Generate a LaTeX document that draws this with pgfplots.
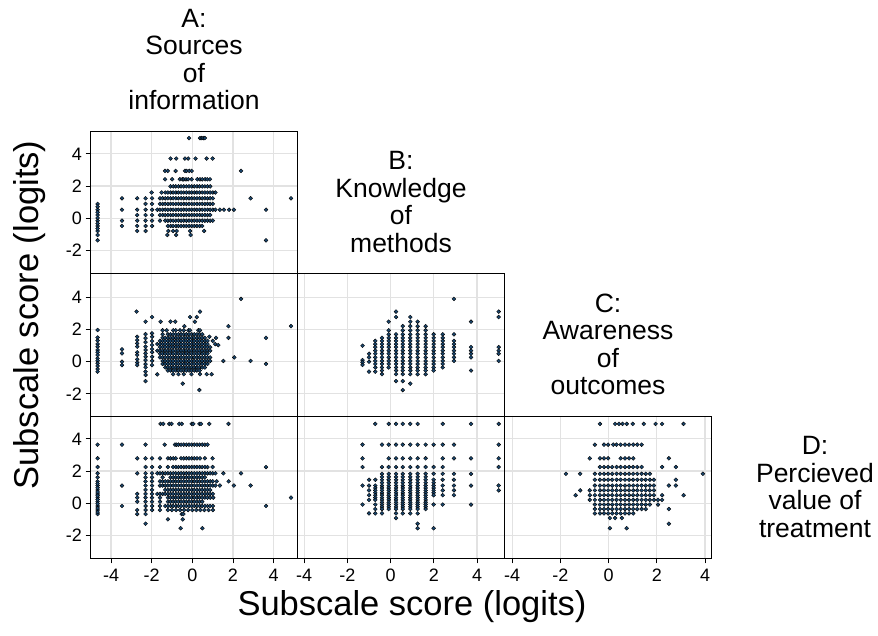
\documentclass[border=0pt]{standalone}
\usepackage{pgfplots}
\pgfplotsset{compat=1.18}
\usepackage{fontspec}
\setmainfont{Liberation Sans}
\definecolor{navy}{RGB}{26,71,111}
\definecolor{gridc}{RGB}{226,226,226}
\pgfplotsset{
  panel/.style={
    scale only axis, width=207pt, height=142.5pt, anchor=north west,
    axis line style={black, line width=0.9pt},
    grid=major, major grid style={draw=gridc, line width=1.2pt},
    xtick={-4,-2,0,2,4}, ytick={-2,0,2,4},
    xticklabels={}, yticklabels={},
    tick align=outside, major tick length=5pt,
    xtick pos=bottom, ytick pos=left,
    xtick style={draw=none}, ytick style={draw=none},
    tick label style={font=\fontsize{18}{18}\selectfont, text=black},
  },
  dots/.style={only marks, mark=*, mark size=1.95pt, mark options={draw=none, fill=navy}},
  ylab/.style={yticklabels={-2,0,2,4}, ytick style={draw=black, line width=0.8pt}},
  xlab/.style={xticklabels={-4,-2,0,2,4}, xtick style={draw=black, line width=0.8pt}, xticklabel style={yshift=-2pt}},
}
\begin{document}
\begin{tikzpicture}[x=1pt,y=1pt]
\useasboundingbox (0pt,0pt) rectangle (878pt,636pt);

% ---------------- Row 1: B vs A ----------------
\begin{axis}[panel, ylab, at={(90.5pt,505pt)}, xmin=-5.01, xmax=5.18, ymin=-3.43, ymax=5.42]
\addplot[dots] coordinates {
(-0.16,4.98)(0.38,4.98)(0.46,4.98)(0.54,4.98)(0.62,4.98)
(-1.07,3.71)(-0.79,3.71)(-0.36,3.71)(-0.20,3.71)(0.16,3.71)(0.71,3.71)(1.00,3.71)
(-1.34,2.94)(-1.21,2.94)(-0.82,2.94)(-0.36,2.94)(-0.28,2.94)(-0.15,2.94)(-0.03,2.94)(2.40,2.94)
(-1.34,2.42)(-0.99,2.42)(-0.61,2.42)(-0.49,2.42)(-0.42,2.42)(-0.31,2.42)(-0.20,2.42)(-0.03,2.42)(0.25,2.42)(0.38,2.42)(0.49,2.42)(0.63,2.42)(0.74,2.42)(0.87,2.42)
(-1.07,1.98)(-0.94,1.98)(-0.81,1.98)(-0.68,1.98)(-0.55,1.98)(-0.42,1.98)(-0.29,1.98)(-0.16,1.98)(-0.03,1.98)(0.10,1.98)(0.23,1.98)(0.36,1.98)(0.49,1.98)(0.62,1.98)(0.75,1.98)(0.88,1.98)
(-2.00,1.60)(-1.51,1.60)(-1.33,1.60)(-1.20,1.60)(-1.07,1.60)(-0.94,1.60)(-0.81,1.60)(-0.68,1.60)(-0.55,1.60)(-0.42,1.60)(-0.29,1.60)(-0.16,1.60)(-0.03,1.60)(0.10,1.60)(0.23,1.60)(0.36,1.60)(0.49,1.60)(0.62,1.60)(0.75,1.60)(0.88,1.60)(1.01,1.60)(1.14,1.60)
(-3.46,1.24)(-2.71,1.24)(-2.30,1.24)(-1.98,1.24)(-1.59,1.24)(-1.46,1.24)(-1.33,1.24)(-1.20,1.24)(-1.07,1.24)(-0.94,1.24)(-0.81,1.24)(-0.68,1.24)(-0.55,1.24)(-0.42,1.24)(-0.29,1.24)(-0.16,1.24)(-0.03,1.24)(0.10,1.24)(0.23,1.24)(0.36,1.24)(0.49,1.24)(0.62,1.24)(0.75,1.24)(0.88,1.24)(1.01,1.24)(2.87,1.24)(4.86,1.24)
(-4.66,0.89)(-2.30,0.89)(-1.98,0.89)(-1.59,0.89)(-1.46,0.89)(-1.33,0.89)(-1.20,0.89)(-1.07,0.89)(-0.94,0.89)(-0.81,0.89)(-0.68,0.89)(-0.55,0.89)(-0.42,0.89)(-0.29,0.89)(-0.16,0.89)(-0.03,0.89)(0.10,0.89)(0.23,0.89)(0.36,0.89)(0.49,0.89)(0.62,0.89)(0.75,0.89)(0.88,0.89)(1.01,0.89)
(-4.66,0.53)(-3.46,0.53)(-2.71,0.53)(-2.30,0.53)(-1.98,0.53)(-1.72,0.53)(-1.59,0.53)(-1.46,0.53)(-1.33,0.53)(-1.20,0.53)(-1.07,0.53)(-0.94,0.53)(-0.81,0.53)(-0.68,0.53)(-0.55,0.53)(-0.42,0.53)(-0.29,0.53)(-0.16,0.53)(-0.03,0.53)(0.10,0.53)(0.23,0.53)(0.36,0.53)(0.49,0.53)(0.62,0.53)(0.75,0.53)(0.88,0.53)(1.01,0.53)(1.14,0.53)(1.36,0.53)(1.56,0.53)(1.81,0.53)(2.05,0.53)(3.63,0.53)
(-4.66,0.20)(-2.71,0.20)(-2.30,0.20)(-1.98,0.20)(-1.59,0.20)(-1.46,0.20)(-1.33,0.20)(-1.20,0.20)(-1.07,0.20)(-0.94,0.20)(-0.81,0.20)(-0.68,0.20)(-0.55,0.20)(-0.42,0.20)(-0.29,0.20)(-0.16,0.20)(-0.03,0.20)(0.10,0.20)(0.23,0.20)(0.36,0.20)(0.49,0.20)(0.62,0.20)(0.75,0.20)(0.88,0.20)
(-4.66,-0.15)(-3.46,-0.15)(-2.71,-0.15)(-2.30,-0.15)(-1.98,-0.15)(-1.59,-0.15)(-1.33,-0.15)(-1.20,-0.15)(-1.07,-0.15)(-0.94,-0.15)(-0.81,-0.15)(-0.68,-0.15)(-0.55,-0.15)(-0.42,-0.15)(-0.29,-0.15)(-0.16,-0.15)(-0.03,-0.15)(0.10,-0.15)(0.23,-0.15)(0.36,-0.15)(0.49,-0.15)(0.62,-0.15)(0.75,-0.15)(0.88,-0.15)(1.01,-0.15)
(-4.66,-0.48)(-3.46,-0.48)(-2.71,-0.48)(-2.30,-0.48)(-1.98,-0.48)(-1.20,-0.48)(-1.07,-0.48)(-0.94,-0.48)(-0.81,-0.48)(-0.68,-0.48)(-0.55,-0.48)(-0.42,-0.48)(-0.29,-0.48)(-0.16,-0.48)(-0.03,-0.48)(0.10,-0.48)(0.23,-0.48)(0.36,-0.48)(0.49,-0.48)
(-4.66,-0.79)(-2.71,-0.79)(-2.30,-0.79)(-1.18,-0.79)(-0.94,-0.79)(-0.77,-0.79)(-0.11,-0.79)(0.58,-0.79)
(-4.66,-1.04)(-1.23,-1.04)(-0.79,-1.04)(-0.08,-1.04)
(-4.66,-1.37)(3.63,-1.37)
(-4.66,0.72)(-4.66,0.37)(-4.66,0.02)(-4.66,-0.32)(-4.66,-0.64)
};
\end{axis}

% ---------------- Row 2: C vs A ----------------
\begin{axis}[panel, ylab, at={(90.5pt,362.5pt)}, xmin=-5.01, xmax=5.18, ymin=-3.39, ymax=5.51]
\addplot[dots] coordinates {
(-4.66,1.98)(-4.66,1.51)(-4.66,1.32)(-4.66,1.11)(-4.66,0.94)(-4.66,0.73)(-4.66,0.59)(-4.66,0.42)(-4.66,0.21)(-4.66,0.06)(-4.66,-0.10)(-4.66,-0.27)(-4.66,-0.46)(-4.66,-0.62)
(-3.46,0.77)(-3.46,0.52)(-3.46,0.00)(-3.46,-0.21)
(-2.74,3.13)(-2.71,1.56)(-2.71,1.35)(-2.71,1.14)(-2.71,0.94)(-2.71,0.59)(-2.71,0.42)(-2.71,0.15)(-2.71,-0.06)(-2.71,-0.21)
(-2.30,2.50)(-2.30,1.72)(-2.30,1.47)(-2.30,1.22)(-2.30,0.94)(-2.30,0.73)(-2.30,0.52)(-2.30,0.31)(-2.30,0.10)(-2.30,-0.15)(-2.30,-0.35)(-2.30,-0.62)(-2.30,-0.83)(-2.30,-1.21)
(-1.98,2.79)(-1.98,1.77)(-1.98,1.56)(-1.98,1.29)(-1.98,1.04)(-1.98,0.79)(-1.98,0.59)(-1.98,0.31)(-1.98,0.06)(-1.98,-0.21)
(-1.72,1.10)(-1.72,0.69)(-1.72,-0.79)(-1.56,2.50)
(-1.07,2.50)(-0.84,2.50)(0.13,2.50)(-0.11,2.79)(0.22,2.79)(0.38,3.13)(2.40,3.92)(-0.39,2.22)(1.78,2.22)(4.86,2.22)
(-1.46,1.96)(-1.26,1.96)(-0.94,1.96)(-0.81,1.96)(-0.60,1.96)(-0.42,1.96)(-0.19,1.96)(-0.11,1.96)(0.30,1.96)(0.38,1.96)
(-1.46,1.71)(-1.20,1.71)(-1.07,1.71)(-0.94,1.71)(-0.81,1.71)(-0.68,1.71)(-0.55,1.71)(-0.42,1.71)(-0.29,1.71)(-0.16,1.71)(-0.03,1.71)(0.10,1.71)(0.23,1.71)(0.36,1.71)(0.49,1.71)(0.84,1.56)
(-1.46,1.49)(-1.33,1.49)(-1.20,1.49)(-1.07,1.49)(-0.94,1.49)(-0.81,1.49)(-0.68,1.49)(-0.55,1.49)(-0.42,1.49)(-0.29,1.49)(-0.16,1.49)(-0.03,1.49)(0.10,1.49)(0.23,1.49)(0.36,1.49)(0.49,1.49)(0.62,1.49)(1.17,1.49)(1.78,1.49)(3.63,1.49)
(-1.59,1.30)(-1.46,1.30)(-1.33,1.30)(-1.20,1.30)(-1.07,1.30)(-0.94,1.30)(-0.81,1.30)(-0.68,1.30)(-0.55,1.30)(-0.42,1.30)(-0.29,1.30)(-0.16,1.30)(-0.03,1.30)(0.10,1.30)(0.23,1.30)(0.36,1.30)(0.49,1.30)(0.62,1.30)(0.75,1.30)(1.01,1.30)
(-1.59,1.10)(-1.46,1.10)(-1.33,1.10)(-1.20,1.10)(-1.07,1.10)(-0.94,1.10)(-0.81,1.10)(-0.68,1.10)(-0.55,1.10)(-0.42,1.10)(-0.29,1.10)(-0.16,1.10)(-0.03,1.10)(0.10,1.10)(0.23,1.10)(0.36,1.10)(0.49,1.10)(0.62,1.10)(0.75,1.10)(1.13,1.10)(1.28,1.04)
(-1.59,0.91)(-1.46,0.91)(-1.33,0.91)(-1.20,0.91)(-1.07,0.91)(-0.94,0.91)(-0.81,0.91)(-0.68,0.91)(-0.55,0.91)(-0.42,0.91)(-0.29,0.91)(-0.16,0.91)(-0.03,0.91)(0.10,0.91)(0.23,0.91)(0.36,0.91)(0.49,0.91)(0.62,0.91)(0.75,0.91)(0.88,0.91)
(-1.59,0.69)(-1.46,0.69)(-1.33,0.69)(-1.20,0.69)(-1.07,0.69)(-0.94,0.69)(-0.81,0.69)(-0.68,0.69)(-0.55,0.69)(-0.42,0.69)(-0.29,0.69)(-0.16,0.69)(-0.03,0.69)(0.10,0.69)(0.23,0.69)(0.36,0.69)(0.49,0.69)(0.62,0.69)(0.75,0.69)(0.88,0.69)
(-1.59,0.50)(-1.46,0.50)(-1.33,0.50)(-1.20,0.50)(-1.07,0.50)(-0.94,0.50)(-0.81,0.50)(-0.68,0.50)(-0.55,0.50)(-0.42,0.50)(-0.29,0.50)(-0.16,0.50)(-0.03,0.50)(0.10,0.50)(0.23,0.50)(0.36,0.50)(0.49,0.50)(0.62,0.50)(0.75,0.50)
(-1.59,0.27)(-1.46,0.27)(-1.33,0.27)(-1.20,0.27)(-1.07,0.27)(-0.94,0.27)(-0.81,0.27)(-0.68,0.27)(-0.55,0.27)(-0.42,0.27)(-0.29,0.27)(-0.16,0.27)(-0.03,0.27)(0.10,0.27)(0.23,0.27)(0.36,0.27)(0.49,0.27)(0.62,0.27)(0.75,0.27)(0.88,0.27)(2.07,0.27)
(-1.46,0.05)(-1.33,0.05)(-1.20,0.05)(-1.07,0.05)(-0.94,0.05)(-0.81,0.05)(-0.68,0.05)(-0.55,0.05)(-0.42,0.05)(-0.29,0.05)(-0.16,0.05)(-0.03,0.05)(0.10,0.05)(0.23,0.05)(0.36,0.05)(0.49,0.05)(0.62,0.05)(0.75,0.05)(0.88,0.05)(1.53,0.05)(2.87,0.05)
(-1.46,-0.14)(-1.33,-0.14)(-1.20,-0.14)(-1.07,-0.14)(-0.94,-0.14)(-0.81,-0.14)(-0.68,-0.14)(-0.55,-0.14)(-0.42,-0.14)(-0.29,-0.14)(-0.16,-0.14)(-0.03,-0.14)(0.10,-0.14)(0.23,-0.14)(0.36,-0.14)(0.49,-0.14)(0.62,-0.14)(0.75,-0.14)(3.63,-0.14)
(-1.33,-0.36)(-1.20,-0.36)(-1.07,-0.36)(-0.94,-0.36)(-0.81,-0.36)(-0.68,-0.36)(-0.55,-0.36)(-0.42,-0.36)(-0.29,-0.36)(-0.16,-0.36)(-0.03,-0.36)(0.10,-0.36)(0.23,-0.36)(0.36,-0.36)(0.49,-0.36)(0.62,-0.36)
(-1.20,-0.55)(-1.07,-0.55)(-0.94,-0.55)(-0.81,-0.55)(-0.68,-0.55)(-0.55,-0.55)(-0.42,-0.55)(-0.29,-0.55)(-0.16,-0.55)(-0.03,-0.55)(0.10,-0.55)(0.23,-0.55)(0.36,-0.55)
(-0.94,-0.78)(-0.68,-0.78)(-0.42,-0.78)(-0.04,-0.78)(0.38,-0.78)(0.71,-0.78)(0.95,-0.78)
(-0.47,-1.37)(0.35,-1.77)
};
\end{axis}

% ---------------- Row 2: C vs B ----------------
\begin{axis}[panel, at={(297.5pt,362.5pt)}, xmin=-4.31, xmax=5.27, ymin=-3.39, ymax=5.51]
\addplot[dots] coordinates {
(-1.30,1.00)(-1.30,0.10)(-1.30,-0.04)(-1.30,-0.20)
(-1.00,0.50)(-1.00,0.27)(-1.00,0.00)(-1.00,-0.62)
(-0.71,1.30)(-0.71,1.10)(-0.71,0.91)(-0.71,0.69)(-0.71,0.50)(-0.71,0.27)(-0.71,0.05)(-0.71,-0.14)(-0.71,-0.36)(-0.71,-0.62)
(-0.40,1.49)(-0.40,1.30)(-0.40,1.10)(-0.40,0.91)(-0.40,0.69)(-0.40,0.50)(-0.40,0.27)(-0.40,0.05)(-0.40,-0.14)(-0.40,-0.36)(-0.40,-0.55)(-0.40,-0.78)
(-0.09,2.50)(-0.09,1.96)(-0.09,1.71)(-0.09,1.49)(-0.09,1.30)(-0.09,1.10)(-0.09,0.91)(-0.09,0.69)(-0.09,0.50)(-0.09,0.27)(-0.09,0.05)(-0.09,-0.14)(-0.09,-0.36)
(0.25,3.13)(0.25,2.79)(0.25,1.71)(0.25,1.49)(0.25,1.30)(0.25,1.10)(0.25,0.91)(0.25,0.69)(0.25,0.50)(0.25,0.27)(0.25,0.05)(0.25,-0.14)(0.25,-0.36)(0.25,-0.55)(0.25,-0.78)(0.25,-1.21)
(0.56,2.22)(0.56,1.96)(0.56,1.71)(0.56,1.49)(0.56,1.30)(0.56,1.10)(0.56,0.91)(0.56,0.69)(0.56,0.50)(0.56,0.27)(0.56,0.05)(0.56,-0.14)(0.56,-0.36)(0.56,-0.55)(0.56,-0.78)(0.56,-1.21)(0.56,-1.77)
(0.91,2.79)(0.91,2.50)(0.91,2.22)(0.91,1.96)(0.91,1.71)(0.91,1.49)(0.91,1.30)(0.91,1.10)(0.91,0.91)(0.91,0.69)(0.91,0.50)(0.91,0.27)(0.91,0.05)(0.91,-0.14)(0.91,-0.36)(0.91,-0.55)(0.91,-0.78)(0.91,-1.37)
(1.25,2.50)(1.25,2.22)(1.25,1.96)(1.25,1.71)(1.25,1.49)(1.25,1.30)(1.25,1.10)(1.25,0.91)(1.25,0.69)(1.25,0.50)(1.25,0.27)(1.25,0.05)(1.25,-0.14)(1.25,-0.36)(1.25,-0.55)(1.25,-0.78)
(1.62,2.22)(1.62,1.96)(1.62,1.71)(1.62,1.49)(1.62,1.30)(1.62,1.10)(1.62,0.91)(1.62,0.69)(1.62,0.50)(1.62,0.27)(1.62,0.05)(1.62,-0.14)(1.62,-0.36)(1.62,-0.55)(1.62,-0.78)
(1.99,1.71)(1.99,1.49)(1.99,1.30)(1.99,1.10)(1.99,0.91)(1.99,0.69)(1.99,0.50)(1.99,0.27)(1.99,0.05)(1.99,-0.14)(1.99,-0.36)(1.99,-0.55)
(2.41,1.71)(2.41,1.49)(2.41,1.30)(2.41,1.10)(2.41,0.91)(2.41,0.69)(2.41,0.50)(2.41,0.27)(2.41,0.05)(2.41,-0.14)(2.41,-0.36)
(2.93,3.92)(2.93,1.71)(2.93,1.30)(2.93,1.10)(2.93,0.91)(2.93,0.69)(2.93,0.50)(2.93,0.27)(2.93,0.05)
(3.72,2.50)(3.72,0.91)(3.72,0.69)(3.72,0.50)(3.72,0.27)(3.72,-0.55)
(5.00,3.13)(5.00,2.79)(5.00,0.91)(5.00,0.69)(5.00,0.50)(5.00,0.05)
};
\end{axis}

% ---------------- Row 3: D vs A ----------------
\begin{axis}[panel, ylab, xlab, at={(90.5pt,220pt)}, xmin=-5.01, xmax=5.18, ymin=-3.43, ymax=5.42]
\addplot[dots] coordinates {
(-1.56,4.93)(-1.43,4.93)(-1.13,4.93)(-1.02,4.93)(-0.64,4.93)(-0.52,4.93)(-0.03,4.93)(0.05,4.93)(0.35,4.93)(0.43,4.93)(0.84,4.93)(1.78,4.93)
(-4.66,3.64)(-3.46,3.64)(-2.30,3.64)(-1.36,3.64)(-0.85,3.64)(-0.77,3.64)(-0.68,3.64)(-0.55,3.64)(-0.42,3.64)(-0.29,3.64)(-0.16,3.64)(-0.03,3.64)(0.10,3.64)(0.23,3.64)(0.36,3.64)(0.49,3.64)(0.62,3.64)(0.75,3.64)
(-4.66,2.79)(-2.71,2.79)(-2.30,2.79)(-1.98,2.79)(-1.59,2.79)(-1.20,2.79)(-1.07,2.79)(-0.94,2.79)(-0.81,2.79)(-0.55,2.79)(-0.42,2.79)(-0.29,2.79)(-0.16,2.79)(-0.03,2.79)(0.10,2.79)(0.23,2.79)(0.38,2.79)(0.62,2.79)(1.00,2.79)
(-4.66,2.25)(-2.30,2.25)(-1.98,2.25)(-1.59,2.25)(-1.20,2.25)(-0.94,2.25)(-0.81,2.25)(-0.68,2.25)(-0.55,2.25)(-0.42,2.25)(-0.29,2.25)(-0.16,2.25)(-0.03,2.25)(0.10,2.25)(0.23,2.25)(0.36,2.25)(0.49,2.25)(0.62,2.25)(0.75,2.25)(1.00,2.25)(3.63,2.25)
(-4.66,1.86)(-2.71,1.86)(-2.30,1.86)(-1.98,1.86)(-1.72,1.86)(-1.59,1.86)(-1.46,1.86)(-1.33,1.86)(-1.20,1.86)(-1.07,1.86)(-0.94,1.86)(-0.81,1.86)(-0.68,1.86)(-0.55,1.86)(-0.42,1.86)(-0.29,1.86)(-0.16,1.86)(-0.03,1.86)(0.10,1.86)(0.23,1.86)(0.36,1.86)(0.49,1.86)(0.62,1.86)(0.75,1.86)(0.88,1.86)(1.01,1.86)(1.14,1.86)(1.53,1.86)(2.40,1.86)
(-4.66,1.61)(-2.30,1.61)(-1.98,1.61)(-1.46,1.61)(-1.07,1.61)(-0.94,1.61)(-0.81,1.61)(-0.68,1.61)(-0.55,1.61)(-0.42,1.61)(-0.29,1.61)(-0.16,1.61)(-0.03,1.61)(0.10,1.61)(0.23,1.61)(0.36,1.61)(0.49,1.61)(0.62,1.61)
(-4.66,1.36)(-2.30,1.36)(-1.98,1.36)(-1.59,1.36)(-1.46,1.36)(-1.33,1.36)(-1.20,1.36)(-1.07,1.36)(-0.94,1.36)(-0.81,1.36)(-0.68,1.36)(-0.55,1.36)(-0.42,1.36)(-0.29,1.36)(-0.16,1.36)(-0.03,1.36)(0.10,1.36)(0.23,1.36)(0.36,1.36)(0.49,1.36)(0.62,1.36)(0.75,1.36)(0.88,1.36)(1.01,1.36)(1.20,1.36)(1.79,1.36)
(-4.66,1.10)(-3.46,1.10)(-2.30,1.10)(-1.98,1.10)(-1.59,1.10)(-1.46,1.10)(-1.33,1.10)(-1.20,1.10)(-1.07,1.10)(-0.94,1.10)(-0.81,1.10)(-0.68,1.10)(-0.55,1.10)(-0.42,1.10)(-0.29,1.10)(-0.16,1.10)(-0.03,1.10)(0.10,1.10)(0.23,1.10)(0.36,1.10)(0.49,1.10)(0.62,1.10)(0.75,1.10)(0.88,1.10)(1.01,1.10)(1.14,1.10)(1.36,1.10)(2.05,1.10)(2.87,1.10)
(-4.66,0.83)(-2.30,0.83)(-1.98,0.83)(-1.33,0.83)(-1.20,0.83)(-1.07,0.83)(-0.94,0.83)(-0.81,0.83)(-0.68,0.83)(-0.55,0.83)(-0.42,0.83)(-0.29,0.83)(-0.16,0.83)(-0.03,0.83)(0.10,0.83)(0.23,0.83)(0.36,0.83)(0.49,0.83)(0.62,0.83)(0.75,0.83)(0.88,0.83)
(-4.66,0.58)(-2.71,0.58)(-2.30,0.58)(-1.98,0.58)(-1.72,0.58)(-1.59,0.58)(-1.46,0.58)(-1.33,0.58)(-1.20,0.58)(-1.07,0.58)(-0.94,0.58)(-0.81,0.58)(-0.68,0.58)(-0.55,0.58)(-0.42,0.58)(-0.29,0.58)(-0.16,0.58)(-0.03,0.58)(0.10,0.58)(0.23,0.58)(0.36,0.58)(0.49,0.58)(0.62,0.58)(0.75,0.58)(0.88,0.58)(1.01,0.58)
(-4.66,0.35)(-2.71,0.35)(-2.30,0.35)(-1.98,0.35)(-1.59,0.35)(-1.20,0.35)(-1.07,0.35)(-0.94,0.35)(-0.81,0.35)(-0.68,0.35)(-0.55,0.35)(-0.42,0.35)(-0.29,0.35)(-0.16,0.35)(-0.03,0.35)(0.10,0.35)(0.23,0.35)(0.36,0.35)(0.49,0.35)(0.62,0.35)(0.75,0.35)(0.88,0.35)(1.03,0.35)(4.86,0.35)
(-4.66,0.10)(-2.71,0.10)(-2.30,0.10)(-1.98,0.10)(-1.59,0.10)(-1.20,0.10)(-1.07,0.10)(-0.94,0.10)(-0.81,0.10)(-0.68,0.10)(-0.55,0.10)(-0.42,0.10)(-0.29,0.10)(-0.16,0.10)(-0.03,0.10)(0.10,0.10)(0.23,0.10)(0.36,0.10)(0.49,0.10)
(-4.66,-0.17)(-3.46,-0.17)(-2.30,-0.17)(-1.98,-0.17)(-1.59,-0.17)(-1.33,-0.17)(-1.20,-0.17)(-1.07,-0.17)(-0.94,-0.17)(-0.81,-0.17)(-0.68,-0.17)(-0.55,-0.17)(-0.42,-0.17)(-0.29,-0.17)(-0.16,-0.17)(-0.03,-0.17)(0.10,-0.17)(0.23,-0.17)(0.36,-0.17)(0.49,-0.17)(0.62,-0.17)(0.75,-0.17)(0.88,-0.17)(1.01,-0.17)(3.63,-0.17)
(-4.66,-0.42)(-2.71,-0.42)(-2.30,-0.42)(-1.98,-0.42)(-1.59,-0.42)(-1.20,-0.42)(-1.00,-0.42)(-0.80,-0.42)(-0.60,-0.42)(-0.40,-0.42)(-0.20,-0.42)(0.00,-0.42)(0.20,-0.42)(0.40,-0.42)(0.60,-0.42)(0.80,-0.42)(1.01,-0.42)
(-4.66,-0.67)(-2.71,-0.67)(-2.30,-0.67)(-0.52,-0.67)(-0.44,-0.67)
(-1.20,-1.00)(-0.47,-1.00)(-2.30,-1.27)(-0.57,-1.55)(0.50,-1.55)
(-4.66,1.22)(-4.66,0.96)(-4.66,0.70)(-4.66,0.47)(-4.66,0.23)(-4.66,-0.03)(-4.66,-0.30)(-4.66,-0.55)
};
\end{axis}

% ---------------- Row 3: D vs B ----------------
\begin{axis}[panel, xlab, at={(297.5pt,220pt)}, xmin=-4.31, xmax=5.27, ymin=-3.43, ymax=5.42]
\addplot[dots] coordinates {
(-0.71,4.93)(-0.09,4.93)(0.25,4.93)(0.56,4.93)(0.91,4.93)(1.25,4.93)(2.41,4.93)(3.72,4.93)(5.00,4.93)
(-1.30,3.64)(-0.40,3.64)(-0.09,3.64)(0.25,3.64)(0.56,3.64)(0.91,3.64)(1.25,3.64)(1.62,3.64)(1.99,3.64)(2.41,3.64)(2.93,3.64)(5.00,3.64)
(-1.30,2.79)(-0.09,2.79)(0.25,2.79)(0.56,2.79)(0.91,2.79)(1.25,2.79)(1.62,2.79)(2.41,2.79)(2.93,2.79)(3.72,2.79)(5.00,2.79)
(-1.30,2.25)(-0.40,2.25)(-0.09,2.25)(0.25,2.25)(0.56,2.25)(0.91,2.25)(1.25,2.25)(1.62,2.25)(1.99,2.25)(2.41,2.25)(5.00,2.25)
(-0.40,1.83)(-0.09,1.83)(0.25,1.83)(0.56,1.83)(0.91,1.83)(1.25,1.83)(1.62,1.83)(1.99,1.83)(2.41,1.83)(2.93,1.83)(3.72,1.83)
(-0.40,1.64)(-0.09,1.64)(0.25,1.64)(0.56,1.64)(0.91,1.64)(1.25,1.64)(1.62,1.64)
(-1.00,1.46)(-0.71,1.46)(-0.40,1.46)(-0.09,1.46)(0.25,1.46)(0.56,1.46)(0.91,1.46)(1.25,1.46)(1.62,1.46)(1.99,1.46)(2.41,1.46)(2.93,1.46)
(-0.40,1.28)(-0.09,1.28)(0.25,1.28)(0.56,1.28)(0.91,1.28)(1.25,1.28)(1.62,1.28)(1.99,1.28)
(-1.30,1.10)(-1.00,1.10)(-0.71,1.10)(-0.40,1.10)(-0.09,1.10)(0.25,1.10)(0.56,1.10)(0.91,1.10)(1.25,1.10)(1.62,1.10)(1.99,1.10)(2.41,1.10)(2.93,1.10)(3.72,1.10)(5.00,1.10)
(-0.71,0.95)(-0.40,0.95)(-0.09,0.95)(0.25,0.95)(0.56,0.95)(0.91,0.95)(1.25,0.95)(1.62,0.95)(1.99,0.95)
(-1.00,0.80)(-0.71,0.80)(-0.40,0.80)(-0.09,0.80)(0.25,0.80)(0.56,0.80)(0.91,0.80)(1.25,0.80)(1.62,0.80)(1.99,0.80)(2.41,0.80)(2.93,0.80)(5.00,0.80)
(-0.71,0.65)(-0.40,0.65)(-0.09,0.65)(0.25,0.65)(0.56,0.65)(0.91,0.65)(1.25,0.65)(1.62,0.65)(1.99,0.65)
(-1.00,0.50)(-0.71,0.50)(-0.40,0.50)(-0.09,0.50)(0.25,0.50)(0.56,0.50)(0.91,0.50)(1.25,0.50)(1.62,0.50)(1.99,0.50)(2.41,0.50)(2.93,0.50)
(-0.71,0.35)(-0.40,0.35)(-0.09,0.35)(0.25,0.35)(0.56,0.35)(0.91,0.35)(1.25,0.35)(1.62,0.35)
(-1.00,0.21)(-0.71,0.21)(-0.40,0.21)(-0.09,0.21)(0.25,0.21)(0.56,0.21)(0.91,0.21)(1.25,0.21)(1.62,0.21)
(-0.40,0.06)(-0.09,0.06)(0.25,0.06)(0.56,0.06)(0.91,0.06)(1.25,0.06)(1.62,0.06)
(-1.30,-0.08)(-0.71,-0.08)(-0.40,-0.08)(-0.09,-0.08)(0.25,-0.08)(0.56,-0.08)(0.91,-0.08)(1.25,-0.08)(1.62,-0.08)(1.99,-0.08)(2.41,-0.08)(3.72,-0.08)
(-0.40,-0.22)(-0.09,-0.22)(0.25,-0.22)(0.56,-0.22)(0.91,-0.22)(1.25,-0.22)(1.62,-0.22)
(-0.71,-0.36)(-0.40,-0.36)(-0.09,-0.36)(0.25,-0.36)(0.56,-0.36)(0.91,-0.36)(1.25,-0.36)(1.62,-0.36)
(-1.00,-0.63)(-0.71,-0.63)(-0.40,-0.63)(0.25,-0.63)(0.56,-0.63)(0.91,-0.63)(1.25,-0.63)
(0.25,-0.92)(1.25,-1.27)(1.25,-1.55)(1.99,-1.55)
};
\end{axis}

% ---------------- Row 3: D vs C ----------------
\begin{axis}[panel, xlab, at={(504.5pt,220pt)}, xmin=-4.32, xmax=4.27, ymin=-3.43, ymax=5.42]
\addplot[dots] coordinates {
(-0.36,4.93)(0.27,4.93)(0.43,4.93)(0.58,4.93)(0.75,4.93)(1.00,4.93)(1.46,4.93)(1.95,4.93)(2.22,4.93)(3.11,4.93)
(-0.57,3.64)(-0.19,3.64)(-0.02,3.64)(0.19,3.64)(0.33,3.64)(0.50,3.64)(0.68,3.64)(0.85,3.64)(1.02,3.64)(1.19,3.64)(1.37,3.64)
(-0.78,2.79)(-0.36,2.79)(-0.19,2.79)(-0.02,2.79)(0.50,2.79)(0.68,2.79)(0.85,2.79)(1.02,2.79)(2.50,2.79)
(-0.36,2.25)(-0.19,2.25)(-0.02,2.25)(0.15,2.25)(0.33,2.25)(0.50,2.25)(0.68,2.25)(0.85,2.25)(1.02,2.25)(1.19,2.25)(1.37,2.25)(2.22,2.25)(2.79,2.25)
(-1.77,1.83)(-1.18,1.83)(-0.57,1.83)(-0.36,1.83)(-0.19,1.83)(-0.02,1.83)(0.15,1.83)(0.33,1.83)(0.50,1.83)(0.68,1.83)(0.85,1.83)(1.02,1.83)(1.19,1.83)(1.37,1.83)(1.54,1.83)(1.71,1.83)(3.91,1.83)
(-0.57,1.46)(-0.36,1.46)(-0.19,1.46)(-0.02,1.46)(0.15,1.46)(0.33,1.46)(0.50,1.46)(0.68,1.46)(0.85,1.46)(1.02,1.46)(1.19,1.46)(1.37,1.46)(1.54,1.46)(1.71,1.46)(1.88,1.46)(2.79,1.46)
(-0.57,1.10)(-0.36,1.10)(-0.19,1.10)(-0.02,1.10)(0.15,1.10)(0.33,1.10)(0.50,1.10)(0.68,1.10)(0.85,1.10)(1.02,1.10)(1.19,1.10)(1.37,1.10)(1.54,1.10)(1.71,1.10)(1.88,1.10)(2.50,1.10)(2.79,1.10)
(-1.18,0.80)(-0.78,0.80)(-0.57,0.80)(-0.36,0.80)(-0.19,0.80)(-0.02,0.80)(0.15,0.80)(0.33,0.80)(0.50,0.80)(0.68,0.80)(0.85,0.80)(1.02,0.80)(1.19,0.80)(1.37,0.80)(1.54,0.80)(1.71,0.80)(1.88,0.80)
(-1.37,0.50)(-0.78,0.50)(-0.57,0.50)(-0.36,0.50)(-0.19,0.50)(-0.02,0.50)(0.15,0.50)(0.33,0.50)(0.50,0.50)(0.68,0.50)(0.85,0.50)(1.02,0.50)(1.19,0.50)(1.37,0.50)(1.54,0.50)(1.71,0.50)(1.88,0.50)(2.22,0.50)(3.11,0.50)
(-0.78,0.21)(-0.57,0.21)(-0.36,0.21)(-0.19,0.21)(-0.02,0.21)(0.15,0.21)(0.33,0.21)(0.50,0.21)(0.68,0.21)(0.85,0.21)(1.02,0.21)(1.19,0.21)(1.37,0.21)(1.54,0.21)(1.71,0.21)(1.88,0.21)(2.05,0.21)(2.22,0.21)
(-0.57,-0.08)(-0.36,-0.08)(-0.19,-0.08)(-0.02,-0.08)(0.15,-0.08)(0.33,-0.08)(0.50,-0.08)(0.68,-0.08)(0.85,-0.08)(1.02,-0.08)(1.19,-0.08)(1.37,-0.08)(1.54,-0.08)(1.71,-0.08)(2.05,-0.08)
(-0.57,-0.36)(-0.36,-0.36)(-0.19,-0.36)(-0.02,-0.36)(0.15,-0.36)(0.33,-0.36)(0.50,-0.36)(0.68,-0.36)(0.85,-0.36)(1.02,-0.36)(1.19,-0.36)(1.37,-0.36)(1.54,-0.36)(2.50,-0.36)
(-0.57,-0.63)(-0.36,-0.63)(-0.19,-0.63)(-0.02,-0.63)(0.15,-0.63)(0.33,-0.63)(0.50,-0.63)(0.68,-0.63)(0.85,-0.63)(1.02,-0.63)
(0.05,-0.92)(0.27,-0.92)(0.55,-0.92)(2.50,-1.27)(0.05,-1.55)(0.75,-1.55)
};
\end{axis}

% ---------------- Diagonal labels and axis titles ----------------
\node[align=center, font=\fontsize{26.5}{27.5}\selectfont] at (194pt,576.5pt) {A:\\Sources\\of\\information};
\node[align=center, font=\fontsize{26.5}{27.5}\selectfont] at (401pt,434pt) {B:\\Knowledge\\of\\methods};
\node[align=center, font=\fontsize{26.5}{27.5}\selectfont] at (608pt,291.5pt) {C:\\Awareness\\of\\outcomes};
\node[align=center, font=\fontsize{26.5}{27.5}\selectfont] at (815pt,149pt) {D:\\Percieved\\value of\\treatment};
\node[font=\fontsize{34.5}{36}\selectfont] at (412pt,29pt) {Subscale score (logits)};
\node[rotate=90, font=\fontsize{34.5}{36}\selectfont] at (30pt,321pt) {Subscale score (logits)};
\end{tikzpicture}
\end{document}
